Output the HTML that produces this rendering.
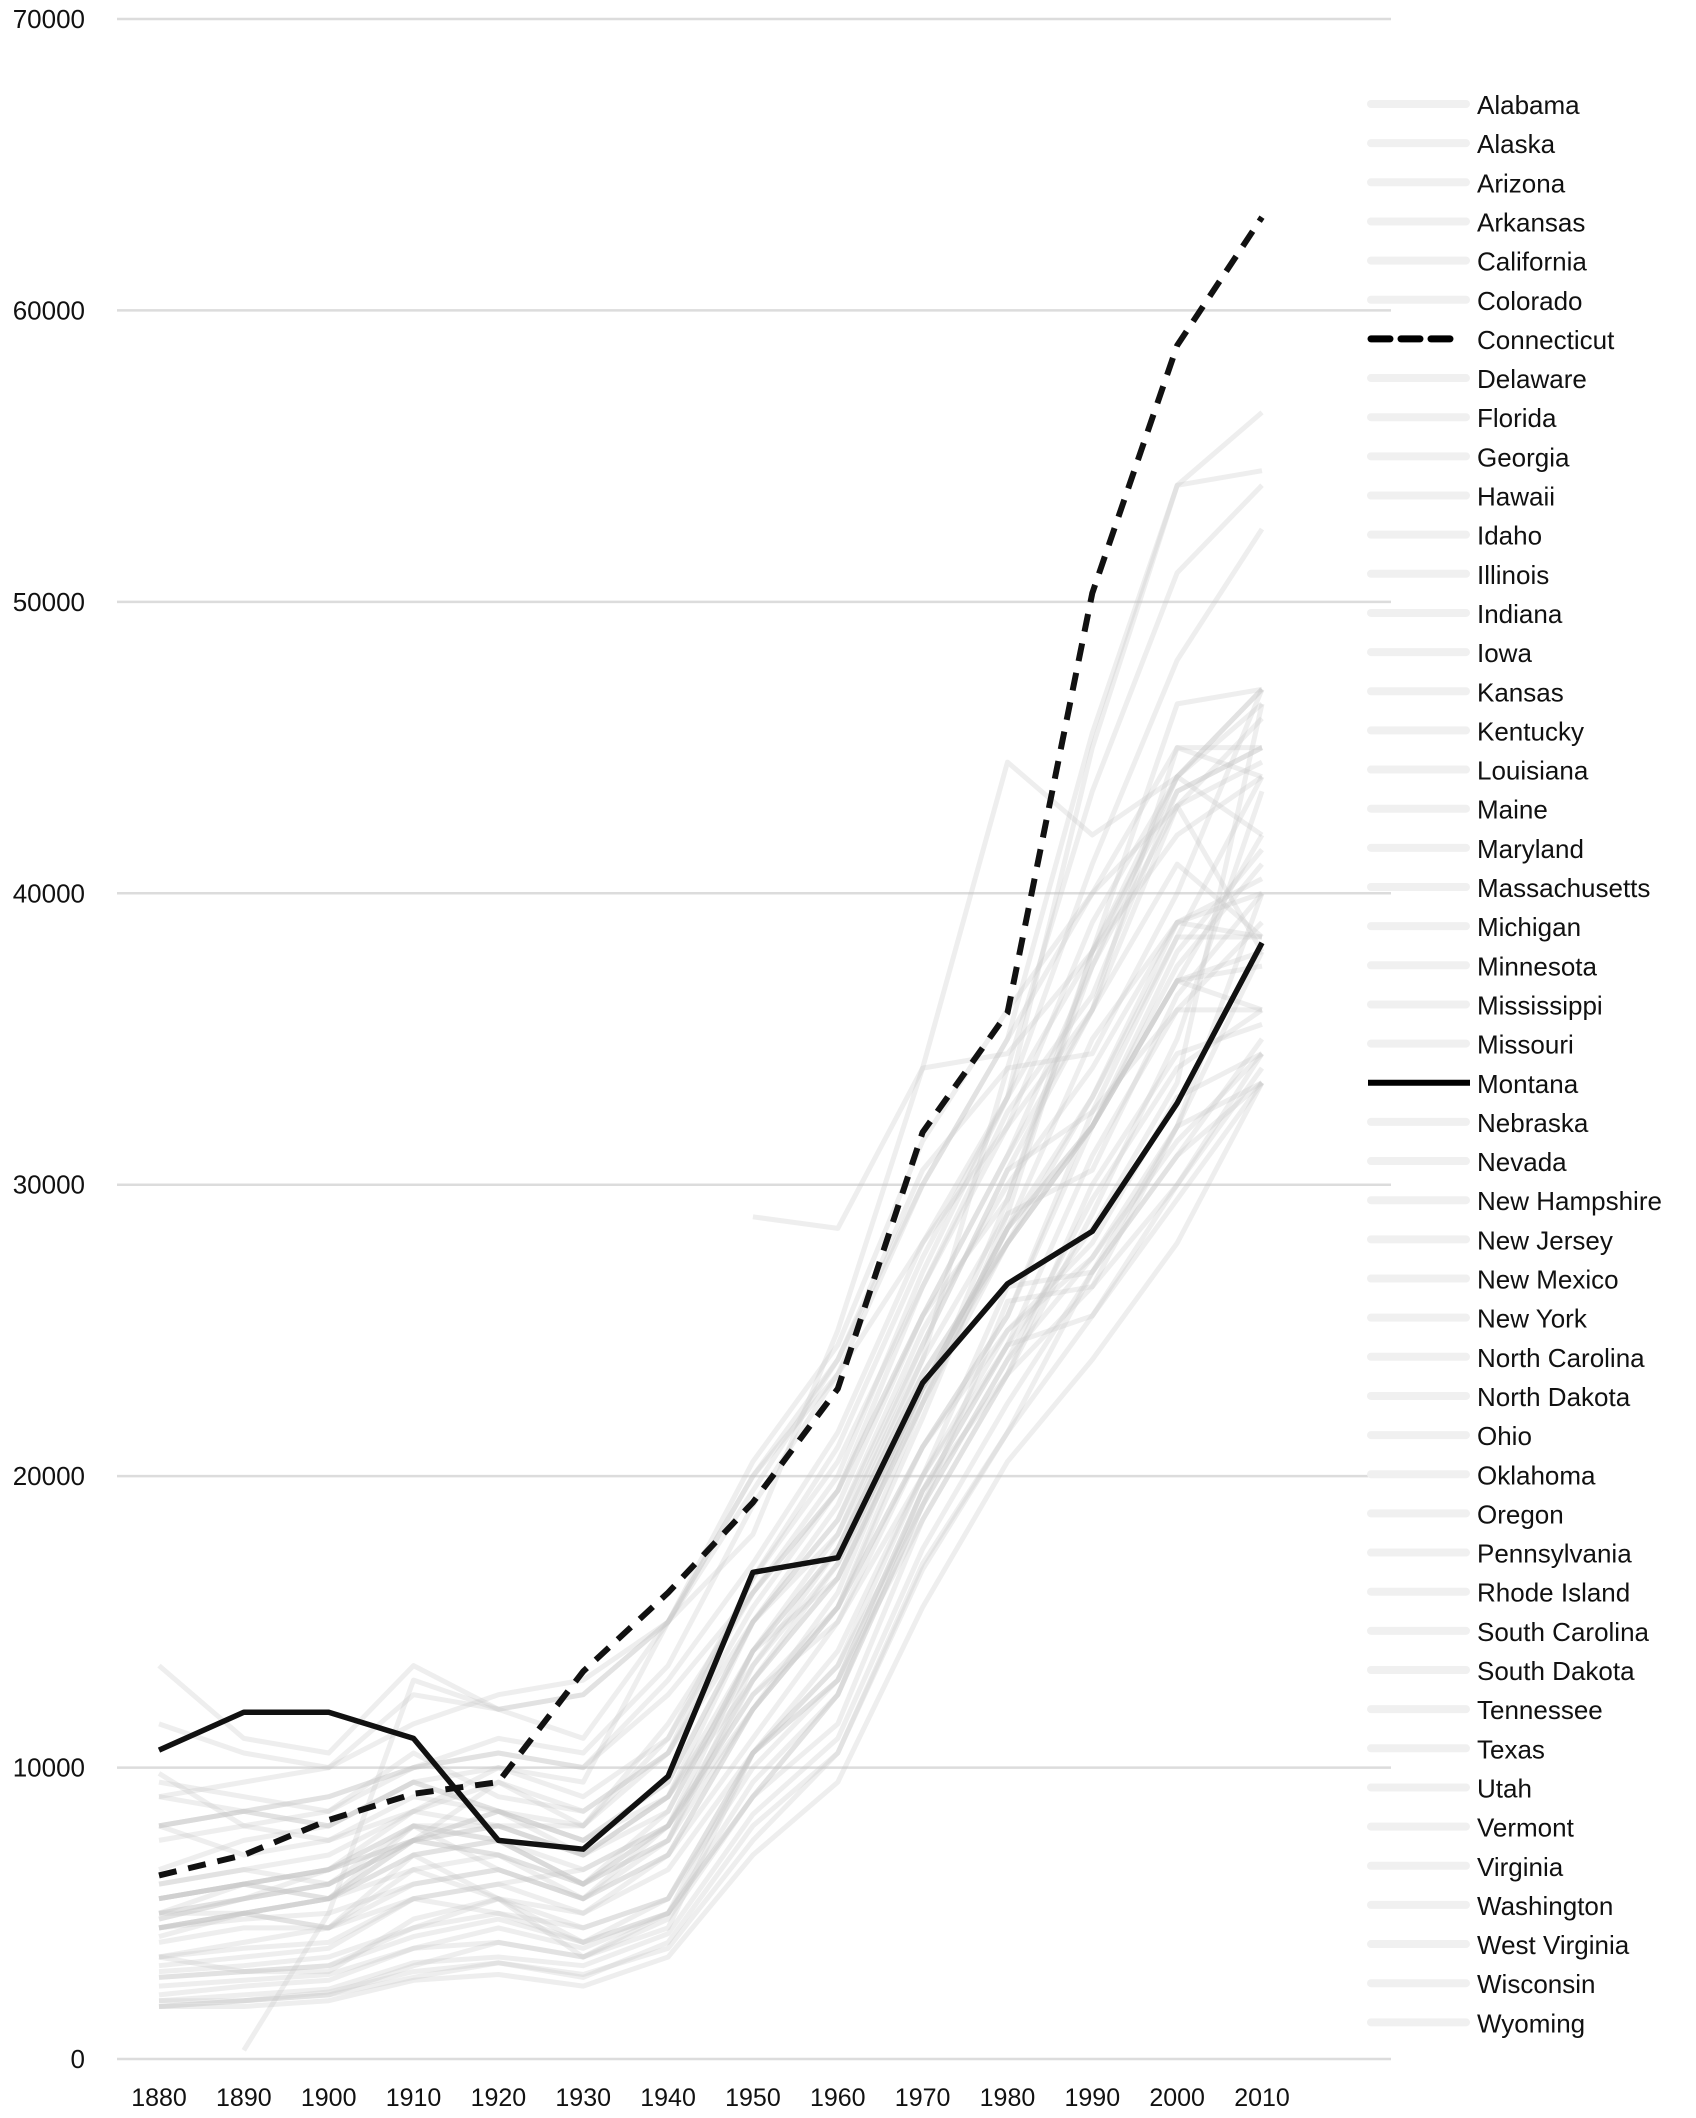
<!DOCTYPE html>
<html><head><meta charset="utf-8">
<style>
html,body{margin:0;padding:0;background:#fff;}
svg{display:block;font-family:"Liberation Sans",sans-serif;}
</style></head>
<body>
<svg id="chart" width="1696" height="2118" viewBox="0 0 1696 2118" xmlns="http://www.w3.org/2000/svg">
<g id="grid"></g>
<g id="yaxis"></g>
<g id="xaxis"></g>
<g id="lines"></g>
<g id="legend"></g>
</svg>
<script>
const years = [1880,1890,1900,1910,1920,1930,1940,1950,1960,1970,1980,1990,2000,2010];
const yTicks = [0,10000,20000,30000,40000,50000,60000,70000];
const stateNames = ["Alabama","Alaska","Arizona","Arkansas","California","Colorado","Connecticut","Delaware","Florida","Georgia","Hawaii","Idaho","Illinois","Indiana","Iowa","Kansas","Kentucky","Louisiana","Maine","Maryland","Massachusetts","Michigan","Minnesota","Mississippi","Missouri","Montana","Nebraska","Nevada","New Hampshire","New Jersey","New Mexico","New York","North Carolina","North Dakota","Ohio","Oklahoma","Oregon","Pennsylvania","Rhode Island","South Carolina","South Dakota","Tennessee","Texas","Utah","Vermont","Virginia","Washington","West Virginia","Wisconsin","Wyoming"];
const connecticut = [6.3,7.0,8.2,9.1,9.5,13.3,16.0,19.1,23.0,31.8,35.9,50.3,58.8,63.2];
const montana = [10.6,11.9,11.9,11.0,7.5,7.2,9.7,16.7,17.2,23.2,26.6,28.4,32.8,38.3];
const alabama = [2.0,2.2,2.4,3.3,3.5,3.2,4.3,8.4,11.0,17.5,22.5,27.0,31.0,35.0];
const alaska = [null,0.3,5.0,13.0,12.0,11.0,15.0,18.0,25.0,34.0,44.5,42.0,44.0,47.0];
const arizona = [9.0,8.5,8.0,9.5,8.5,7.5,9.0,13.0,17.0,23.0,28.0,32.0,37.0,36.0];
const arkansas = [2.0,2.0,2.3,3.0,3.3,2.9,3.8,7.5,10.5,16.8,21.5,25.5,30.0,34.0];
const california = [11.5,10.5,10.0,12.5,12.0,12.5,15.0,19.5,24.0,30.0,35.0,40.0,45.0,45.0];
const colorado = [9.8,8.0,7.5,8.5,8.0,8.0,10.5,15.0,19.0,25.5,31.0,36.0,45.0,44.0];
const delaware = [5.5,6.0,6.5,8.5,10.0,9.5,15.0,20.0,23.5,28.0,32.0,39.0,44.0,42.0];
const florida = [3.2,3.5,3.8,5.5,6.0,6.5,8.0,12.0,16.0,23.0,28.5,35.0,39.0,40.0];
const georgia = [2.2,2.5,2.7,3.8,4.0,3.5,5.0,9.0,12.5,19.5,24.5,31.0,36.0,36.0];
const hawaii = [null,null,null,null,null,null,null,28.9,28.5,34.0,34.5,38.0,42.0,44.0];
const idaho = [6.0,6.5,6.0,8.0,6.5,5.5,8.0,12.5,15.0,20.0,25.0,28.0,33.0,34.5];
const illinois = [6.5,7.5,8.0,9.5,10.0,9.0,11.0,16.5,21.0,27.5,33.0,38.0,43.5,45.0];
const indiana = [4.5,5.0,5.5,7.0,7.5,6.0,8.5,14.0,17.5,23.5,28.0,32.0,37.0,37.5];
const iowa = [5.0,5.5,6.5,8.0,7.5,6.0,8.0,14.0,16.5,23.0,28.5,32.0,37.0,42.0];
const kansas = [4.5,5.0,5.5,7.5,7.0,5.5,7.5,13.0,16.5,22.5,28.5,32.0,37.5,41.0];
const kentucky = [2.8,3.0,3.2,4.2,4.8,4.0,5.0,9.5,12.5,19.0,24.0,27.5,31.5,34.5];
const louisiana = [3.0,3.2,3.5,4.5,5.0,4.5,5.5,10.5,13.5,19.0,26.0,26.5,32.0,40.0];
const maine = [4.5,5.0,5.5,6.5,7.0,6.0,7.5,12.0,15.5,21.0,25.5,32.5,36.0,39.0];
const maryland = [5.5,6.0,6.5,7.5,8.5,8.0,11.5,16.0,20.0,27.0,33.0,41.0,48.0,52.5];
const massachusetts = [8.0,8.5,9.0,10.0,10.5,10.0,13.0,17.0,21.5,28.0,33.0,45.0,54.0,56.5];
const michigan = [4.8,5.5,6.0,7.5,9.5,8.0,11.0,16.0,19.5,26.5,32.0,36.0,41.0,38.5];
const minnesota = [5.0,6.0,6.5,8.0,8.0,7.0,9.0,14.0,18.0,24.5,30.5,36.0,43.0,46.0];
const mississippi = [1.8,1.8,2.0,2.7,2.9,2.5,3.5,7.0,9.5,15.5,20.5,24.0,28.0,33.5];
const missouri = [4.2,5.0,5.5,7.0,7.5,6.5,8.0,13.0,16.5,22.5,28.0,32.0,37.0,38.0];
const nebraska = [5.5,6.0,5.5,8.0,7.5,6.0,7.5,13.5,17.0,23.0,28.5,33.0,38.5,44.0];
const nevada = [13.5,11.0,10.5,13.5,12.0,12.5,15.0,20.5,24.5,31.5,36.0,40.0,43.0,38.0];
const newHampshire = [5.5,6.0,6.5,7.5,8.0,7.0,9.0,13.5,17.5,24.0,29.0,38.0,46.5,47.0];
const newJersey = [7.5,8.0,8.5,10.0,11.0,10.5,13.5,19.0,23.5,30.0,35.0,45.5,54.0,54.5];
const newMexico = [5.0,5.0,4.5,5.5,5.0,4.0,5.5,10.0,13.0,18.5,23.5,26.5,30.0,34.5];
const newYork = [9.0,9.5,10.0,11.5,12.5,13.0,15.0,20.0,24.0,30.5,34.0,43.5,51.0,54.0];
const northCarolina = [1.8,2.0,2.2,3.2,4.0,3.5,4.8,9.0,11.5,18.5,23.5,30.0,34.5,35.5];
const northDakota = [4.5,5.0,4.5,7.0,5.5,4.0,5.0,10.5,13.5,20.0,24.5,28.5,33.5,46.5];
const ohio = [5.0,5.5,6.0,7.5,8.5,7.5,9.5,15.0,18.5,25.0,30.0,34.0,39.0,38.5];
const oklahoma = [3.5,3.0,3.0,4.8,5.5,4.5,5.5,10.5,14.0,20.0,26.5,27.0,32.0,38.0];
const oregon = [8.0,8.5,8.0,9.5,8.5,7.5,9.5,15.0,18.5,24.5,30.5,32.5,38.5,38.5];
const pennsylvania = [6.0,6.5,7.0,8.5,9.5,8.5,10.5,15.5,19.5,25.5,31.0,37.5,43.0,44.5];
const rhodeIsland = [8.0,8.5,9.0,10.0,10.5,10.0,12.5,16.0,19.5,25.5,29.5,38.0,44.0,46.5];
const southCarolina = [1.8,2.0,2.2,2.8,3.3,2.8,4.0,8.0,10.5,17.0,21.5,27.0,31.0,33.5];
const southDakota = [4.0,4.5,4.5,6.5,5.5,3.5,4.5,10.5,13.0,19.5,23.5,29.0,35.0,43.5];
const tennessee = [2.5,2.7,2.9,3.8,4.5,3.8,5.0,9.0,12.5,19.0,24.0,29.5,34.0,36.0];
const texas = [3.5,4.0,4.5,6.0,6.5,5.5,7.0,12.0,15.5,22.0,29.0,30.5,36.5,40.0];
const utah = [5.5,6.0,5.5,7.5,7.0,6.0,8.0,12.5,15.5,21.0,25.0,27.5,32.0,33.5];
const vermont = [4.5,4.8,5.0,6.0,6.5,5.5,7.0,11.0,15.0,21.0,25.5,32.0,38.0,41.5];
const virginia = [2.8,3.0,3.2,4.5,5.5,5.0,7.0,12.0,15.5,22.5,29.5,37.5,44.0,47.0];
const washington = [9.5,9.0,8.5,10.5,9.0,8.5,10.5,16.5,20.5,26.5,32.5,36.5,43.5,45.0];
const westVirginia = [3.5,3.8,4.0,5.5,6.0,5.0,6.5,10.5,13.0,19.5,24.5,25.5,29.5,33.5];
const wisconsin = [4.8,5.5,6.0,7.5,8.0,7.0,8.5,14.0,17.5,23.5,28.0,33.0,39.0,40.5];
const wyoming = [8.0,7.0,7.5,9.0,8.5,7.0,9.0,15.0,18.0,24.0,34.0,34.5,40.0,47.0];

const series = [alabama,alaska,arizona,arkansas,california,colorado,connecticut,delaware,florida,georgia,hawaii,idaho,illinois,indiana,iowa,kansas,kentucky,louisiana,maine,maryland,massachusetts,michigan,minnesota,mississippi,missouri,montana,nebraska,nevada,newHampshire,newJersey,newMexico,newYork,northCarolina,northDakota,ohio,oklahoma,oregon,pennsylvania,rhodeIsland,southCarolina,southDakota,tennessee,texas,utah,vermont,virginia,washington,westVirginia,wisconsin,wyoming];

const NS = "http://www.w3.org/2000/svg";
const X0 = 159, X1 = 1262, Y0 = 2059, Y70 = 19;
function xScale(i){ return X0 + (X1 - X0) * i / (years.length - 1); }
function yScale(v){ return Y0 - (Y0 - Y70) * v / 70000; }
function mk(tag, attrs, parent){ const e = document.createElementNS(NS, tag); for (const k in attrs) e.setAttribute(k, attrs[k]); parent.appendChild(e); return e; }

const grid = document.getElementById('grid');
const yaxis = document.getElementById('yaxis');
yTicks.forEach(t => {
  const y = yScale(t);
  const gl = mk('line', {x1:117, x2:1391, y1:y, y2:y, stroke:'#dcdcdc', 'stroke-width':2.5}, grid);
  
  
  const tl = mk('text', {x:85, y:y + 9, 'text-anchor':'end', 'font-size':26, fill:'#111'}, yaxis);
  tl.textContent = String(t);
  
  
});
const xaxis = document.getElementById('xaxis');
years.forEach((yr, i) => {
  const tl = mk('text', {x:xScale(i), y:2106, 'text-anchor':'middle', 'font-size':25, fill:'#111'}, xaxis);
  tl.textContent = String(yr);
  
  
});

function pathFor(vals){
  let d = '', pen = false;
  vals.forEach((v, i) => {
    if (v === null) { pen = false; return; }
    d += (pen ? 'L' : 'M') + xScale(i).toFixed(1) + ' ' + yScale(v * 1000).toFixed(1) + ' ';
    pen = true;
  });
  return d;
}
const lines = document.getElementById('lines');
const CT = 6, MT = 25;
series.forEach((vals, si) => {
  if (si === CT || si === MT) return;
  const p = mk('path', {d:pathFor(vals), fill:'none', stroke:'#c8c8c8', 'stroke-opacity':0.3, 'stroke-width':5, 'stroke-linejoin':'round'}, lines);
  
  
});
const pm = mk('path', {d:pathFor(montana), fill:'none', stroke:'#111', 'stroke-width':5.5, 'stroke-linejoin':'round'}, lines);


const pc = mk('path', {d:pathFor(connecticut), fill:'none', stroke:'#111', 'stroke-width':6, 'stroke-dasharray':'18 12', 'stroke-linejoin':'round'}, lines);



const legend = document.getElementById('legend');
stateNames.forEach((n, i) => {
  const y = 104 + i * 39.15;
  const g = mk('g', {}, legend);
  
  
  if (i === CT) {
    mk('line', {x1:1371, x2:1460, y1:y, y2:y, stroke:'#000', 'stroke-width':7, 'stroke-dasharray':'19 11', 'stroke-linecap':'round'}, g);
  } else if (i === MT) {
    mk('line', {x1:1368, x2:1470, y1:y, y2:y, stroke:'#000', 'stroke-width':6}, g);
  } else {
    mk('line', {x1:1371, x2:1466, y1:y, y2:y, stroke:'#f0f0f0', 'stroke-width':8, 'stroke-linecap':'round'}, g);
  }
  const t = mk('text', {x:1477, y:y + 10, 'font-size':26, fill:'#111'}, g);
  t.textContent = n;
});
</script>
</body></html>
